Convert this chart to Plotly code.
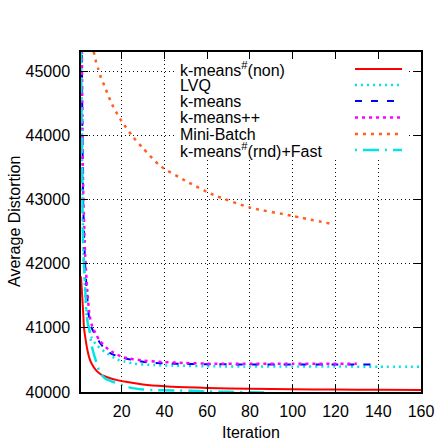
import plotly.graph_objects as go

# ---------------- data ----------------
names = ["k-means<sup>#</sup>(non)", "LVQ", "k-means", "k-means++", "Mini-Batch",
         "k-means<sup>#</sup>(rnd)+Fast"]

non_x = [1, 2, 2.4, 3, 4, 5, 6, 8, 10, 12, 15, 18, 22, 30, 40, 50, 60, 80, 100, 120, 140, 160]
non_y = [41800, 41250, 41000, 40850, 40650, 40520, 40440, 40340, 40280, 40245, 40210, 40185,
         40158, 40118, 40090, 40075, 40063, 40050, 40043, 40038, 40034, 40031]

lvq_x = [1, 2, 3, 4, 6, 8, 12, 18, 21, 26, 35, 44, 64, 80, 100, 120, 140, 160]
lvq_y = [46000, 42500, 41500, 41100, 40850, 40740, 40630, 40505, 40478, 40442, 40420, 40411,
         40400, 40398, 40397, 40396, 40395, 40395]

km_x = [1, 2, 3, 4, 5, 6, 7, 8, 10, 12, 15, 19, 25, 30, 36, 45, 50, 60, 80, 100, 120, 137]
km_y = [47500, 43000, 41950, 41450, 41100, 41000, 40930, 40870, 40760, 40680, 40600, 40550,
        40500, 40470, 40452, 40442, 40437, 40432, 40430, 40428, 40428, 40427]

kmpp_x = [1, 2, 3, 4, 5, 6, 8, 10, 14, 20, 24, 30, 36, 49, 60, 80, 100, 130]
kmpp_y = [47500, 43200, 42100, 41550, 41200, 41050, 40900, 40790, 40660, 40550, 40520, 40490,
          40473, 40453, 40442, 40440, 40440, 40440]

mb_x = [6, 7, 8, 9, 10, 12, 14, 16, 18, 20, 25, 30, 38, 50, 63, 80, 100, 119]
mb_y = [45550, 45300, 45150, 45040, 44930, 44770, 44600, 44450, 44330, 44220, 43990, 43800,
        43525, 43290, 43072, 42875, 42744, 42614]

fast_x = [1, 2, 3, 4, 5, 6, 8, 10, 12, 15, 20, 25, 30, 35, 45, 52, 60, 70, 80, 89]
fast_y = [45500, 42300, 41600, 41100, 40950, 40720, 40480, 40290, 40220, 40170, 40110, 40060,
          40040, 40030, 40025, 40020, 40008, 40002, 39995, 39990]

x_ticks = [20, 40, 60, 80, 100, 120, 140, 160]
y_ticks = [40000, 41000, 42000, 43000, 44000, 45000]
y_tick_text = ["40000", "41000", "42000", "43000", "44000", "45000"]
x_title = "Iteration"
y_title = "Average Distortion"

# ---------------- styles ----------------
colors = ["#ff0000", "#00e6e6", "#0000ff", "#ff00ff", "#ff6020", "#00e6e6"]
dashes = ["solid", "2px,4px", "7px,9px", "3px,4px", "3px,5px", "2px,6px,16px,6px"]
widths = [2, 2.5, 2, 2.5, 2.5, 2.5]

series = [(non_x, non_y), (lvq_x, lvq_y), (km_x, km_y), (kmpp_x, kmpp_y), (mb_x, mb_y),
          (fast_x, fast_y)]

FONT = "Liberation Sans, Arial, sans-serif"

fig = go.Figure()
for (xs, ys), nm, c, d, w in zip(series, names, colors, dashes, widths):
    fig.add_trace(go.Scatter(x=xs, y=ys, mode="lines", name=nm, showlegend=False,
                             line=dict(color=c, dash=d, width=w, shape="spline", smoothing=0.6)))

# plot area geometry (pixels)
L, R, T, B = 81, 17, 52, 48
W, H = 438, 440
pw, ph = W - L - R, H - T - B

def px2x(p):
    return (p - L) / pw

def py2y(p):
    return (H - B - p) / ph

shapes = [dict(type="rect", xref="paper", yref="paper", layer="above",
               x0=px2x(176), x1=px2x(408), y0=py2y(158), y1=py2y(59),
               fillcolor="white", line=dict(width=0))]
annotations = []
row_y = [69, 85, 101, 117.5, 134, 150]
for nm, c, d, w, ry in zip(names, colors, dashes, widths, row_y):
    annotations.append(dict(x=px2x(178), y=py2y(ry), xref="paper", yref="paper",
                            text=nm, showarrow=False, xanchor="left", yanchor="middle",
                            font=dict(family=FONT, size=16, color="black")))
    shapes.append(dict(type="line", xref="paper", yref="paper", layer="above",
                       x0=px2x(355), x1=px2x(402), y0=py2y(ry), y1=py2y(ry),
                       line=dict(color=c, dash=d, width=w)))

# axis titles
annotations.append(dict(x=px2x(251), y=py2y(432.5), xref="paper", yref="paper", text=x_title,
                        showarrow=False, xanchor="center", yanchor="middle",
                        font=dict(family=FONT, size=16, color="black")))
annotations.append(dict(x=px2x(14), y=py2y(222), xref="paper", yref="paper", text=y_title,
                        showarrow=False, xanchor="center", yanchor="middle", textangle=-90,
                        font=dict(family=FONT, size=16, color="black")))

axis_common = dict(showline=True, linecolor="black", linewidth=1.5, mirror="allticks",
                   ticks="inside", ticklen=7, tickwidth=1, tickcolor="black",
                   showgrid=True, gridcolor="#111", griddash="1px,3px", gridwidth=1,
                   zeroline=False, tickfont=dict(family=FONT, size=16, color="black"))

fig.update_layout(
    width=W, height=H, margin=dict(l=L, r=R, t=T, b=B, autoexpand=False),
    paper_bgcolor="white", plot_bgcolor="white",
    xaxis=dict(range=[1, 160], tickvals=x_ticks, ticklabelstandoff=4, **axis_common),
    yaxis=dict(range=[40000, 45300], tickvals=y_ticks, ticktext=y_tick_text,
               ticklabelstandoff=6, **axis_common),
    shapes=shapes, annotations=annotations,
)

fig.write_html("out.html")
